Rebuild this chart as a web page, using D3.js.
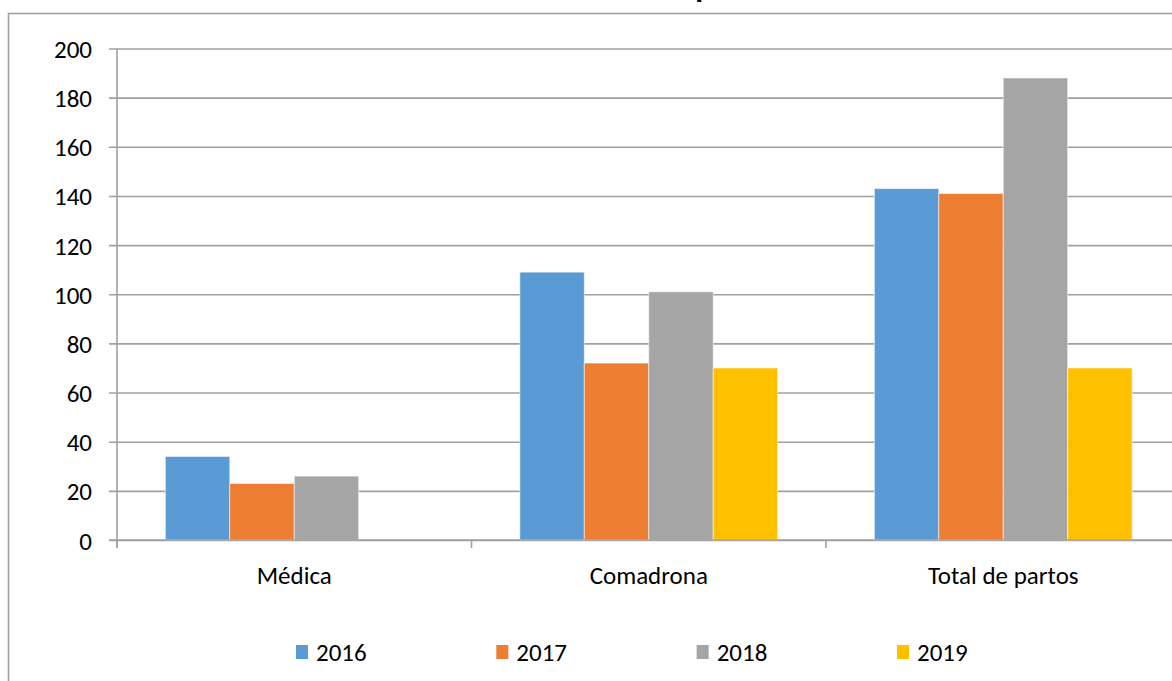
<!DOCTYPE html>
<html>
<head>
<meta charset="utf-8">
<script src="https://cdn.jsdelivr.net/npm/d3@7"></script>
<style>
  html, body { margin: 0; padding: 0; background: #fff; overflow: hidden; }
  svg { display: block; }
  text { font-family: Carlito, Calibri, Lato, sans-serif; fill: #000; }
</style>
</head>
<body>
<svg id="chart" width="1172" height="681"></svg>
<script>
// Births attended, by who attended them, per year
const title = "Atención de partos";
const categories = ["Médica", "Comadrona", "Total de partos"];
const years = ["2016", "2017", "2018", "2019"];
const values2016 = [34, 109, 143];
const values2017 = [23, 72, 141];
const values2018 = [26, 101, 188];
const values2019 = [null, 70, 70];
const yTicks = [0, 20, 40, 60, 80, 100, 120, 140, 160, 180, 200];
const colors = ["#5B9BD5", "#ED7D31", "#A5A5A5", "#FFC000"];

const seriesValues = [values2016, values2017, values2018, values2019];
const rows = categories.map((c, i) => ({
  category: c,
  bars: years.map((y, s) => ({ year: y, value: seriesValues[s][i] }))
}));

const svg = d3.select("#chart");
const gridColor = "#a0a0a0";
const labelSize = 25;

// Outer chart frame
svg.append("rect")
  .attr("x", 8.5).attr("y", 13.5)
  .attr("width", 1250).attr("height", 760)
  .attr("fill", "none")
  .attr("stroke", gridColor)
  .attr("stroke-width", 1.6);

// Title (sits above the frame)
const titleText = svg.append("text")
  .attr("y", -3.5)
  .attr("font-size", 32)
  .attr("font-weight", "bold")
  .text(title);
const probe = svg.append("text")
  .attr("font-size", 32).attr("font-weight", "bold")
  .text(title.slice(0, title.indexOf("partos")));
const preWidth = probe.node().getComputedTextLength();
probe.remove();
titleText.attr("x", 688 - preWidth);

const plot = { left: 117, right: 1180.5, top: 48.5, bottom: 540 };

const y = d3.scaleLinear().domain([0, 200]).range([plot.bottom, plot.top]);
const x0 = d3.scaleBand().domain(categories).range([plot.left, plot.right]);
const bw = x0.bandwidth() / (years.length + 1.5);
const x1 = d3.scaleBand().domain(years)
  .range([0.75 * bw, x0.bandwidth() - 0.75 * bw]);

// Horizontal gridlines + y axis labels
const yAxis = d3.axisLeft(y).tickValues(yTicks)
  .tickSize(-(1250 - plot.left)).tickSizeOuter(0).tickPadding(25);
const gy = svg.append("g").attr("transform", `translate(${plot.left},0)`).call(yAxis);
gy.select(".domain").remove();
gy.selectAll(".tick line")
  .attr("x1", -8)
  .attr("stroke", gridColor).attr("stroke-width", 1.6);
gy.selectAll(".tick text")
  .attr("font-size", labelSize)
  .attr("font-family", "Carlito, Calibri, Lato, sans-serif")
  .attr("fill", "#000")
  .attr("x", -25)
  .attr("dy", "0.36em");

// Vertical axis line
svg.append("line")
  .attr("x1", plot.left).attr("x2", plot.left)
  .attr("y1", plot.top).attr("y2", plot.bottom + 8)
  .attr("stroke", gridColor).attr("stroke-width", 1.6);

// Bars
const groups = svg.append("g").selectAll("g")
  .data(rows).join("g")
  .attr("transform", d => `translate(${x0(d.category)},0)`);
groups.selectAll("rect")
  .data(d => d.bars.filter(b => b.value !== null))
  .join("rect")
  .attr("x", d => x1(d.year))
  .attr("y", d => y(d.value))
  .attr("width", x1.bandwidth())
  .attr("height", d => y(0) - y(d.value))
  .attr("fill", d => colors[years.indexOf(d.year)])
  .attr("stroke", "#ffffff").attr("stroke-opacity", 0.55).attr("stroke-width", 1);

// Category axis
const xAxis = d3.axisBottom(x0).tickSize(0).tickSizeOuter(0).tickPadding(0);
const gx = svg.append("g").attr("transform", `translate(0,${plot.bottom})`).call(xAxis);
gx.select(".domain").remove();
gx.selectAll(".tick text")
  .attr("font-size", labelSize)
  .attr("font-family", "Carlito, Calibri, Lato, sans-serif")
  .attr("fill", "#000")
  .attr("dy", 0).attr("y", 44);
svg.append("g").selectAll("line")
  .data(categories).join("line")
  .attr("x1", d => x0(d)).attr("x2", d => x0(d))
  .attr("y1", plot.bottom).attr("y2", plot.bottom + 8)
  .attr("stroke", gridColor).attr("stroke-width", 1.6);
svg.append("line")
  .attr("x1", plot.left - 8).attr("x2", 1250)
  .attr("y1", plot.bottom).attr("y2", plot.bottom)
  .attr("stroke", gridColor).attr("stroke-width", 1.6);

// Legend
const legendX = d3.scalePoint().domain(years).range([296, 897]);
const legend = svg.append("g").selectAll("g")
  .data(years).join("g")
  .attr("transform", d => `translate(${legendX(d)},0)`);
legend.append("rect")
  .attr("x", 0).attr("y", 645)
  .attr("width", 12).attr("height", 14)
  .attr("fill", (d, i) => colors[i]);
legend.append("text")
  .attr("x", 20).attr("y", 661)
  .attr("font-size", labelSize)
  .text(d => d);
</script>
</body>
</html>
